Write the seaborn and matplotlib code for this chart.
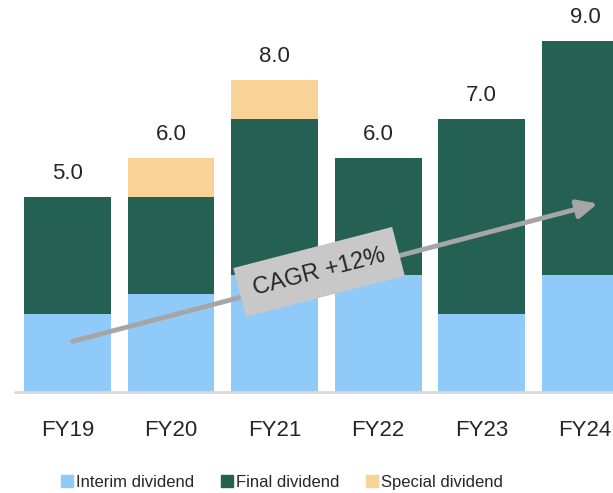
import numpy as np
import pandas as pd
import matplotlib
matplotlib.use("Agg")
import matplotlib.pyplot as plt
import seaborn as sns

years = ["FY19", "FY20", "FY21", "FY22", "FY23", "FY24"]
interim = [2.0, 2.5, 3.0, 3.0, 2.0, 3.0]
final = [3.0, 2.5, 4.0, 3.0, 5.0, 6.0]
special = [0.0, 1.0, 1.0, 0.0, 0.0, 0.0]
totals = ["5.0", "6.0", "8.0", "6.0", "7.0", "9.0"]
cagr_text = "CAGR +12%"

c_interim = "#90CAF8"
c_final = "#256152"
c_special = "#F9D298"

sns.set_style("white")
plt.rcParams["font.family"] = ["Liberation Sans Narrow", "Liberation Sans", "DejaVu Sans"]

df = pd.DataFrame({"year": years, "interim": interim, "final": final, "special": special})
df["lvl1"] = df["interim"]
df["lvl2"] = df["interim"] + df["final"]
df["lvl3"] = df["lvl2"] + df["special"]

fig = plt.figure(figsize=(6.13, 4.93), dpi=100)
ax = fig.add_axes([0.0, 101 / 493, 1.0, 392 / 493])

# stacked by overdrawing cumulative heights
sns.barplot(df, x="year", y="lvl3", color=c_special, width=0.84, saturation=1, linewidth=0, ax=ax)
sns.barplot(df, x="year", y="lvl2", color=c_final, width=0.84, saturation=1, linewidth=0, ax=ax)
sns.barplot(df, x="year", y="lvl1", color=c_interim, width=0.84, saturation=1, linewidth=0, ax=ax)

ax.set_xlim(-0.652, 5.27)
ax.set_ylim(0, 10.05)
ax.axhline(0, color="#D9D9D9", lw=2, xmin=15 / 613, clip_on=False)
sns.despine(ax=ax, left=True, bottom=True, top=True, right=True)
ax.set(xlabel="", ylabel="", yticks=[])
ax.tick_params(axis="x", length=0, pad=20, labelsize=16)

for i, t in enumerate(totals):
    ax.annotate(t, (i, df["lvl3"][i]), xytext=(0, 9), textcoords="offset points",
                ha="center", va="bottom", fontsize=16)

# CAGR arrow
arrow_start = (0.024, 1.28)
arrow_end = (5.15, 4.85)
ax.annotate("", xy=arrow_end, xytext=arrow_start,
            arrowprops=dict(arrowstyle="-|>,head_length=1.2,head_width=0.55", color="#A6A6A6", lw=3.5))
ax.text(2.43, 3.08, cagr_text, rotation=14.5, rotation_mode="anchor", ha="center", va="center",
        fontsize=17, bbox=dict(boxstyle="square,pad=0.6", fc="#C8C8C8", ec="none"))

handles = [plt.Rectangle((0, 0), 1, 1, color=c) for c in (c_interim, c_final, c_special)]
fig.legend(handles, ["Interim dividend", "Final dividend", "Special dividend"],
           loc="center", bbox_to_anchor=(0.46, 0.022), ncol=3, frameon=False, fontsize=12,
           handlelength=0.7, handleheight=0.7, handletextpad=0.2, columnspacing=1.6)

fig.savefig("out.png", dpi=100)
